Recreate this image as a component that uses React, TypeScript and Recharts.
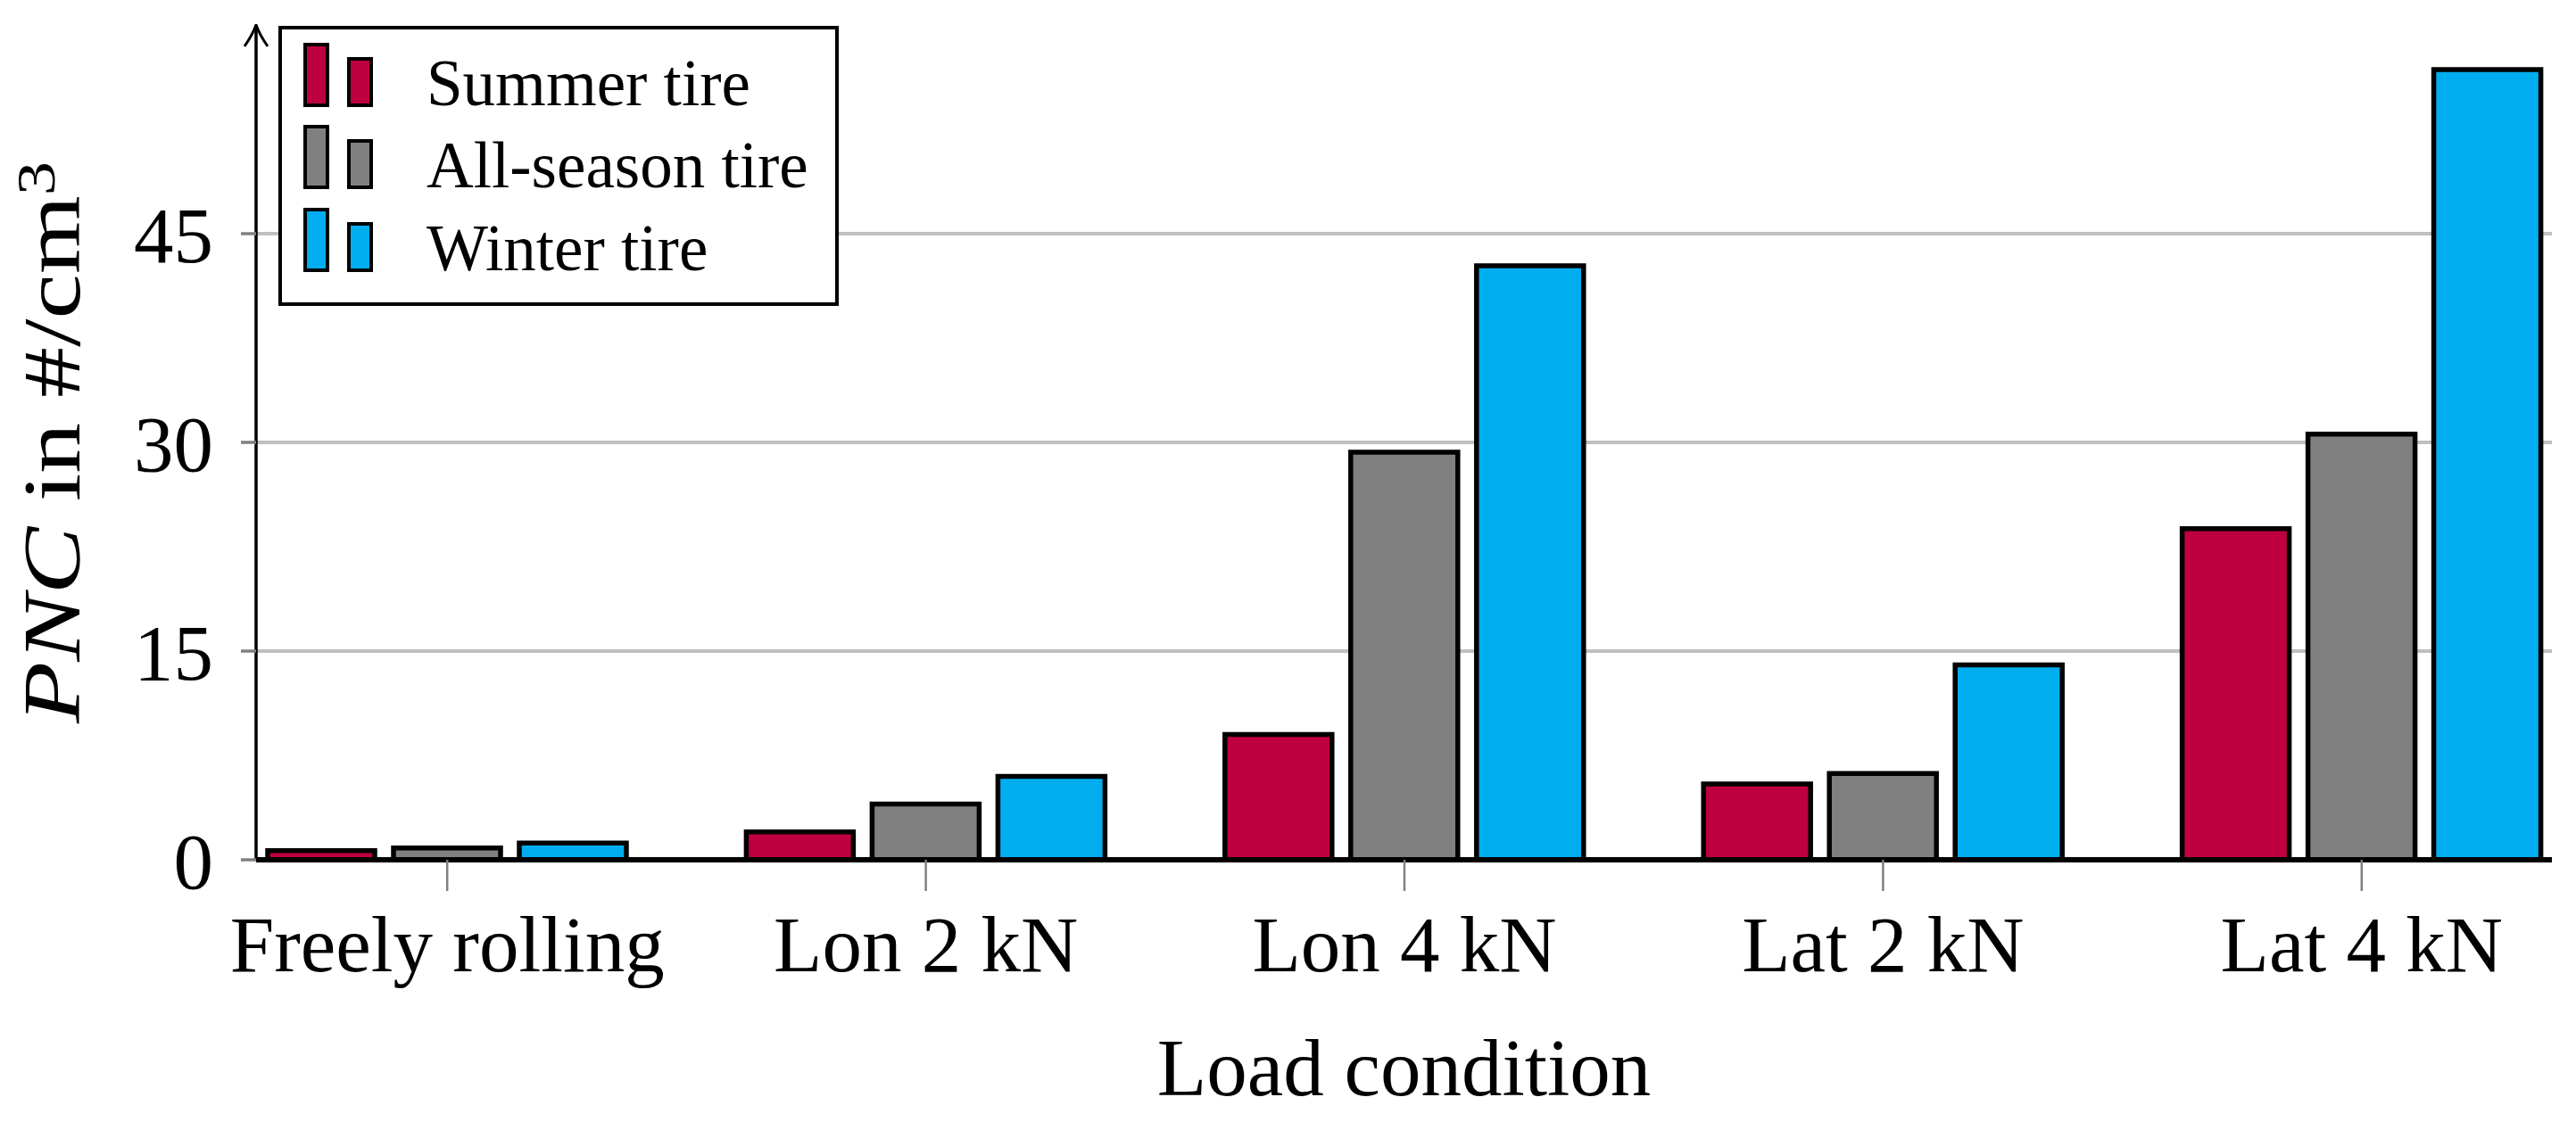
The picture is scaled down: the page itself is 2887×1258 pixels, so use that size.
import React from 'react';
import { BarChart, Bar, XAxis, YAxis, CartesianGrid, Legend } from 'recharts';

const categories = ['Freely rolling', 'Lon 2 kN', 'Lon 4 kN', 'Lat 2 kN', 'Lat 4 kN'];
const summerTire = [0.65, 2.0, 9.0, 5.45, 23.8];
const allSeasonTire = [0.85, 4.0, 29.3, 6.2, 30.6];
const winterTire = [1.2, 6.0, 42.7, 14.0, 56.8];
const yTicks = [0, 15, 30, 45];

const series = [
  { key: 'summer', name: 'Summer tire', color: '#BF0040' },
  { key: 'allSeason', name: 'All-season tire', color: '#808080' },
  { key: 'winter', name: 'Winter tire', color: '#00AEEF' },
];

const data = categories.map((name, i) => ({
  name,
  summer: summerTire[i],
  allSeason: allSeasonTire[i],
  winter: winterTire[i],
}));

const FONT = '"Liberation Serif", "Times New Roman", serif';

function YLabel({ viewBox }: any) {
  const x = viewBox.x + 89;
  const y = viewBox.y + viewBox.height / 2;
  return (
    <text
      x={x}
      y={y}
      transform={`rotate(-90 ${x} ${y})`}
      textAnchor="middle"
      fontFamily={FONT}
      fontSize={92}
      fill="#000"
      textLength={630}
      lengthAdjust="spacingAndGlyphs"
    >
      <tspan fontStyle="italic">PNC</tspan>
      <tspan> in #/cm</tspan>
      <tspan dy={-28} fontSize={62}>3</tspan>
    </text>
  );
}

function XLabel({ viewBox }: any) {
  return (
    <text x={viewBox.x + viewBox.width / 2} y={viewBox.y + 264} textAnchor="middle" fontFamily={FONT} fontSize={91} fill="#000">
      Load condition
    </text>
  );
}

const rowBottoms = [85, 177, 270];

function LegendBox() {
  return (
    <div style={{ width: 628, height: 314, border: '4px solid #000', boxSizing: 'border-box', background: '#fff' }}>
      <svg width={620} height={306} style={{ display: 'block' }}>
        {series.map((s, i) => (
          <g key={s.key}>
            <rect x={26} y={rowBottoms[i] - 68} width={25} height={68} fill={s.color} stroke="#000" strokeWidth={4} />
            <rect x={75} y={rowBottoms[i] - 52} width={25} height={52} fill={s.color} stroke="#000" strokeWidth={4} />
            <text x={162} y={rowBottoms[i]} fontFamily={FONT} fontSize={73} fill="#000">
              {s.name}
            </text>
          </g>
        ))}
      </svg>
    </div>
  );
}

export default function App() {
  return (
    <div style={{ position: 'absolute', left: 0, top: 0, width: 2887, height: 1258, background: '#fff' }}>
      <BarChart
        width={2887}
        height={1258}
        data={data}
        margin={{ top: 28, right: 27, bottom: 0, left: 0 }}
        barSize={120}
        barGap={21}
      >
        <defs>
          <marker
            id="yarrow"
            viewBox="0 0 26 28"
            refX="25"
            refY="14"
            markerWidth="26"
            markerHeight="28"
            markerUnits="userSpaceOnUse"
            orient="auto-start-reverse"
          >
            <path d="M1,1 Q14,10 25,14 Q14,18 1,27" fill="none" stroke="#000" strokeWidth={3} />
          </marker>
        </defs>
        <CartesianGrid vertical={false} horizontalValues={[15, 30, 45]} stroke="#bfbfbf" strokeWidth={4} />
        <XAxis
          dataKey="name"
          height={294}
          padding={{ left: -54, right: -55 }}
          axisLine={{ stroke: '#000', strokeWidth: 6 }}
          tickLine={{ stroke: '#808080', strokeWidth: 2.5 }}
          tickSize={35}
          tickMargin={27}
          tick={{ fontFamily: FONT, fontSize: 89, fill: '#000' }}
          interval={0}
          label={<XLabel />}
        />
        <YAxis
          width={287}
          domain={[0, 60]}
          ticks={yTicks}
          axisLine={{ stroke: '#000', strokeWidth: 3.5, markerStart: 'url(#yarrow)' }}
          tickLine={{ stroke: '#808080', strokeWidth: 3.5 }}
          tickSize={17}
          tickMargin={31}
          tick={{ fontFamily: FONT, fontSize: 89, fill: '#000' }}
          label={<YLabel />}
        />
        <Legend
          layout="vertical"
          align="center"
          verticalAlign="middle"
          content={() => <LegendBox />}
          wrapperStyle={{ position: 'absolute', left: 312, top: 29, width: 628, height: 314 }}
        />
        {series.map((s) => (
          <Bar key={s.key} dataKey={s.key} name={s.name} fill={s.color} stroke="#000" strokeWidth={5.5} isAnimationActive={false} />
        ))}
      </BarChart>
    </div>
  );
}
